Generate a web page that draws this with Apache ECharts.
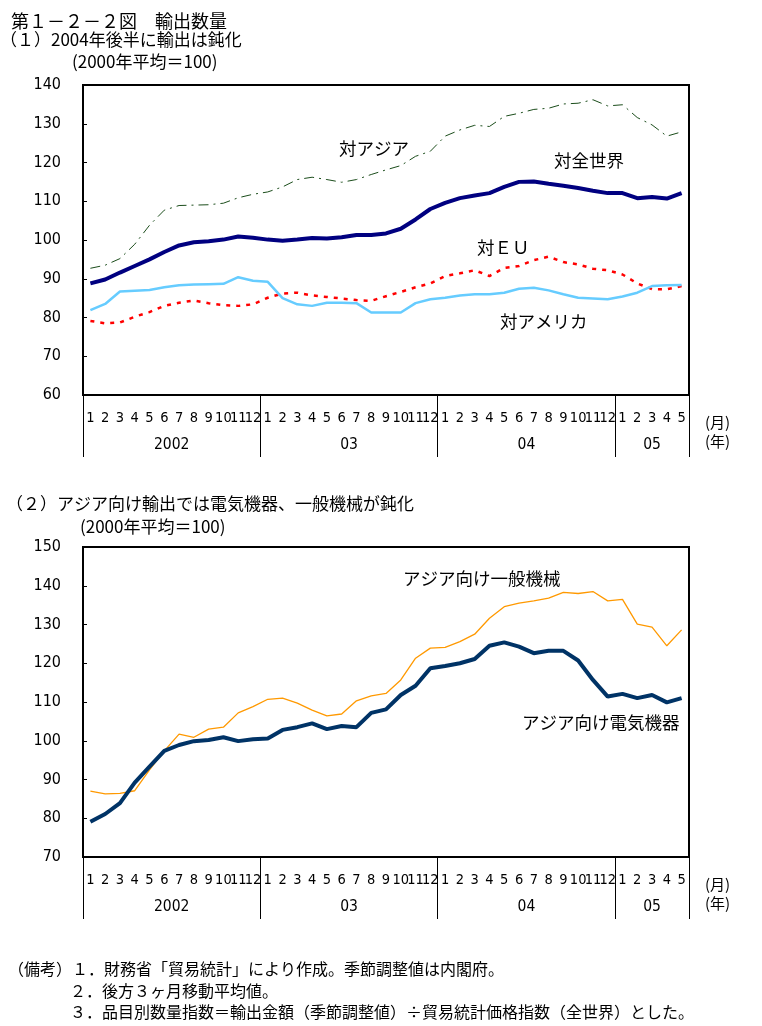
<!DOCTYPE html>
<html>
<head>
<meta charset="utf-8">
<script src="https://cdn.jsdelivr.net/npm/echarts@6/dist/echarts.min.js"></script>
<style>
html,body{margin:0;padding:0;background:#fff;}
#c{width:762px;height:1026px;}
</style>
</head>
<body>
<div id="c"></div>
<script>
// ---- data ----
const months = ['1','2','3','4','5','6','7','8','9','10','11','12',
                '1','2','3','4','5','6','7','8','9','10','11','12',
                '1','2','3','4','5','6','7','8','9','10','11','12',
                '1','2','3','4','5'];
const yearLabels = ['2002','03','04','05'];
const monthsPerYear = [12,12,12,5];

const world = [88.8, 89.8, 91.6, 93.3, 95.0, 96.9, 98.6, 99.4, 99.7, 100.1, 100.9, 100.6,
               100.1, 99.8, 100.1, 100.5, 100.4, 100.7, 101.3, 101.3, 101.7, 102.9, 105.3, 108.0,
               109.6, 110.8, 111.5, 112.1, 113.7, 115.0, 115.1, 114.5, 114.0, 113.4, 112.7, 112.1,
               112.1, 110.8, 111.1, 110.7, 112.1];
const asia = [92.7, 93.5, 95.2, 98.9, 103.8, 107.7, 108.9, 109.0, 109.1, 109.5, 110.9, 111.8,
              112.4, 113.7, 115.6, 116.2, 115.6, 114.9, 115.6, 116.9, 118.1, 119.2, 121.6, 122.9,
              126.8, 128.4, 129.6, 129.3, 131.9, 132.7, 133.7, 134.0, 135.1, 135.3, 136.2, 134.6,
              134.9, 131.6, 129.7, 126.8, 127.9];
const eu = [79.1, 78.5, 78.7, 80.2, 81.4, 83.0, 83.8, 84.4, 83.7, 83.2, 83.0, 83.4,
            85.1, 86.2, 86.4, 85.7, 85.3, 84.9, 84.5, 84.3, 85.5, 86.6, 87.8, 88.8,
            90.7, 91.4, 92.2, 90.7, 92.8, 93.3, 94.8, 95.7, 94.3, 93.7, 92.6, 92.2,
            91.1, 88.8, 87.3, 87.3, 88.1];
const usa = [81.9, 83.5, 86.7, 86.9, 87.1, 87.8, 88.3, 88.5, 88.6, 88.7, 90.4, 89.5,
             89.2, 85.0, 83.4, 83.0, 83.8, 83.8, 83.7, 81.3, 81.3, 81.3, 83.7, 84.7,
             85.1, 85.7, 86.0, 86.0, 86.4, 87.4, 87.7, 87.0, 86.0, 85.1, 84.9, 84.7,
             85.4, 86.4, 88.1, 88.3, 88.4];
const elec = [79.1, 81.1, 83.9, 89.2, 93.3, 97.4, 98.9, 99.9, 100.2, 100.9, 99.9, 100.4,
              100.6, 102.8, 103.5, 104.5, 103.0, 103.8, 103.5, 107.2, 108.1, 111.8, 114.2, 118.7,
              119.3, 120.0, 121.1, 124.5, 125.4, 124.3, 122.6, 123.2, 123.2, 120.7, 115.7, 111.4,
              112.1, 111.0, 111.8, 109.9, 111.0];
const mach = [87.0, 86.3, 86.4, 87.1, 92.5, 97.4, 101.7, 100.9, 103.0, 103.5, 107.2, 108.8,
              110.7, 111.0, 109.7, 107.9, 106.4, 106.9, 110.3, 111.6, 112.2, 115.7, 121.3, 123.9,
              124.1, 125.6, 127.5, 131.6, 134.6, 135.5, 136.1, 136.8, 138.3, 138.0, 138.5, 136.1,
              136.5, 130.1, 129.3, 124.5, 128.6];

// ---- derived year positions ----
const yearBounds = [0];
monthsPerYear.forEach(n => yearBounds.push(yearBounds[yearBounds.length-1] + n));
const yearCenters = monthsPerYear.map((n,i) => yearBounds[i] + n/2);
const total = yearBounds[yearBounds.length-1];

const JP = '"Noto Sans CJK JP", sans-serif';
const NARROW = '"Liberation Sans Narrow","DejaVu Sans Condensed","Noto Sans",sans-serif';

function grid(top){ return {left:83, top:top, width:606, height:310, show:true, borderColor:'#000', borderWidth:2, backgroundColor:'transparent'}; }
function monthAxis(g){ return {type:'category', gridIndex:g, data:months, boundaryGap:true,
  axisLine:{show:false}, axisTick:{show:false},
  axisLabel:{interval:0, margin:16, color:'#000', fontSize:14.5, fontFamily:NARROW}}; }
function yearAxis(g){ return {type:'value', gridIndex:g, min:0, max:total, position:'bottom',
  axisLine:{show:false}, splitLine:{show:false},
  axisTick:{show:true, customValues:yearBounds, length:62, lineStyle:{color:'#000', width:1}},
  axisLabel:{customValues:yearCenters, margin:42, color:'#000', fontSize:15.5, fontFamily:NARROW,
    formatter: v => { const i = yearCenters.indexOf(v); return i>=0 ? yearLabels[i] : ''; }}}; }
function valAxis(g,min,max){ return {type:'value', gridIndex:g, min:min, max:max, interval:10,
  axisLine:{show:false}, splitLine:{show:false},
  axisTick:{show:true, inside:true, length:4, lineStyle:{color:'#000', width:1}},
  axisLabel:{margin:22, color:'#000', fontSize:16, fontFamily:NARROW}}; }

function txt(text,x,y,size){ return {type:'text', style:{text:text, x:x, y:y, fontSize:size, fontFamily:JP, fill:'#000', verticalAlign:'middle', align:'left'}}; }

const chart = echarts.init(document.getElementById('c'), null, {renderer:'canvas'});
chart.setOption({
  animation:false,
  backgroundColor:'#fff',
  grid:[grid(85), grid(547)],
  xAxis:[monthAxis(0), yearAxis(0), monthAxis(1), yearAxis(1)],
  yAxis:[valAxis(0,60,140), valAxis(1,70,150)],
  series:[
    {name:'対アジア', type:'line', xAxisIndex:0, yAxisIndex:0, data:asia, symbol:'none',
     lineStyle:{color:'#1b4d1b', width:1, type:[10,5,2,5]}},
    {name:'対ＥＵ', type:'line', xAxisIndex:0, yAxisIndex:0, data:eu, symbol:'none',
     lineStyle:{color:'#ff0000', width:2.5, type:[4,6]}},
    {name:'対アメリカ', type:'line', xAxisIndex:0, yAxisIndex:0, data:usa, symbol:'none',
     lineStyle:{color:'#66ccff', width:2.5}},
    {name:'対全世界', type:'line', xAxisIndex:0, yAxisIndex:0, data:world, symbol:'none',
     lineStyle:{color:'#000080', width:4}},
    {name:'アジア向け一般機械', type:'line', xAxisIndex:2, yAxisIndex:1, data:mach, symbol:'none',
     lineStyle:{color:'#ff9900', width:1.3}},
    {name:'アジア向け電気機器', type:'line', xAxisIndex:2, yAxisIndex:1, data:elec, symbol:'none',
     lineStyle:{color:'#003366', width:4}}
  ],
  graphic:[
    txt('第１－２－２図　輸出数量', 11, 21, 18),
    txt('（１）2004年後半に輸出は鈍化', 0, 40, 17),
    txt('(2000年平均＝100)', 72, 62, 17),
    txt('対アジア', 339, 148, 17.5),
    txt('対全世界', 554, 160, 17.5),
    txt('対ＥＵ', 477, 247, 17.5),
    txt('対アメリカ', 500, 321, 17.5),
    txt('(月)', 705, 422, 15),
    txt('(年)', 705, 441, 15),
    txt('（２）アジア向け輸出では電気機器、一般機械が鈍化', 6, 504, 17),
    txt('(2000年平均＝100)', 80, 527, 17),
    txt('アジア向け一般機械', 403, 578, 17.5),
    txt('アジア向け電気機器', 522, 722, 17.5),
    txt('(月)', 705, 884, 15),
    txt('(年)', 705, 903, 15),
    txt('（備考）１．財務省「貿易統計」により作成。季節調整値は内閣府。', 8, 969, 16),
    txt('２．後方３ヶ月移動平均値。', 70, 991, 16),
    txt('３．品目別数量指数＝輸出金額（季節調整値）÷貿易統計価格指数（全世界）とした。', 70, 1012, 16)
  ]
});
</script>
</body>
</html>
